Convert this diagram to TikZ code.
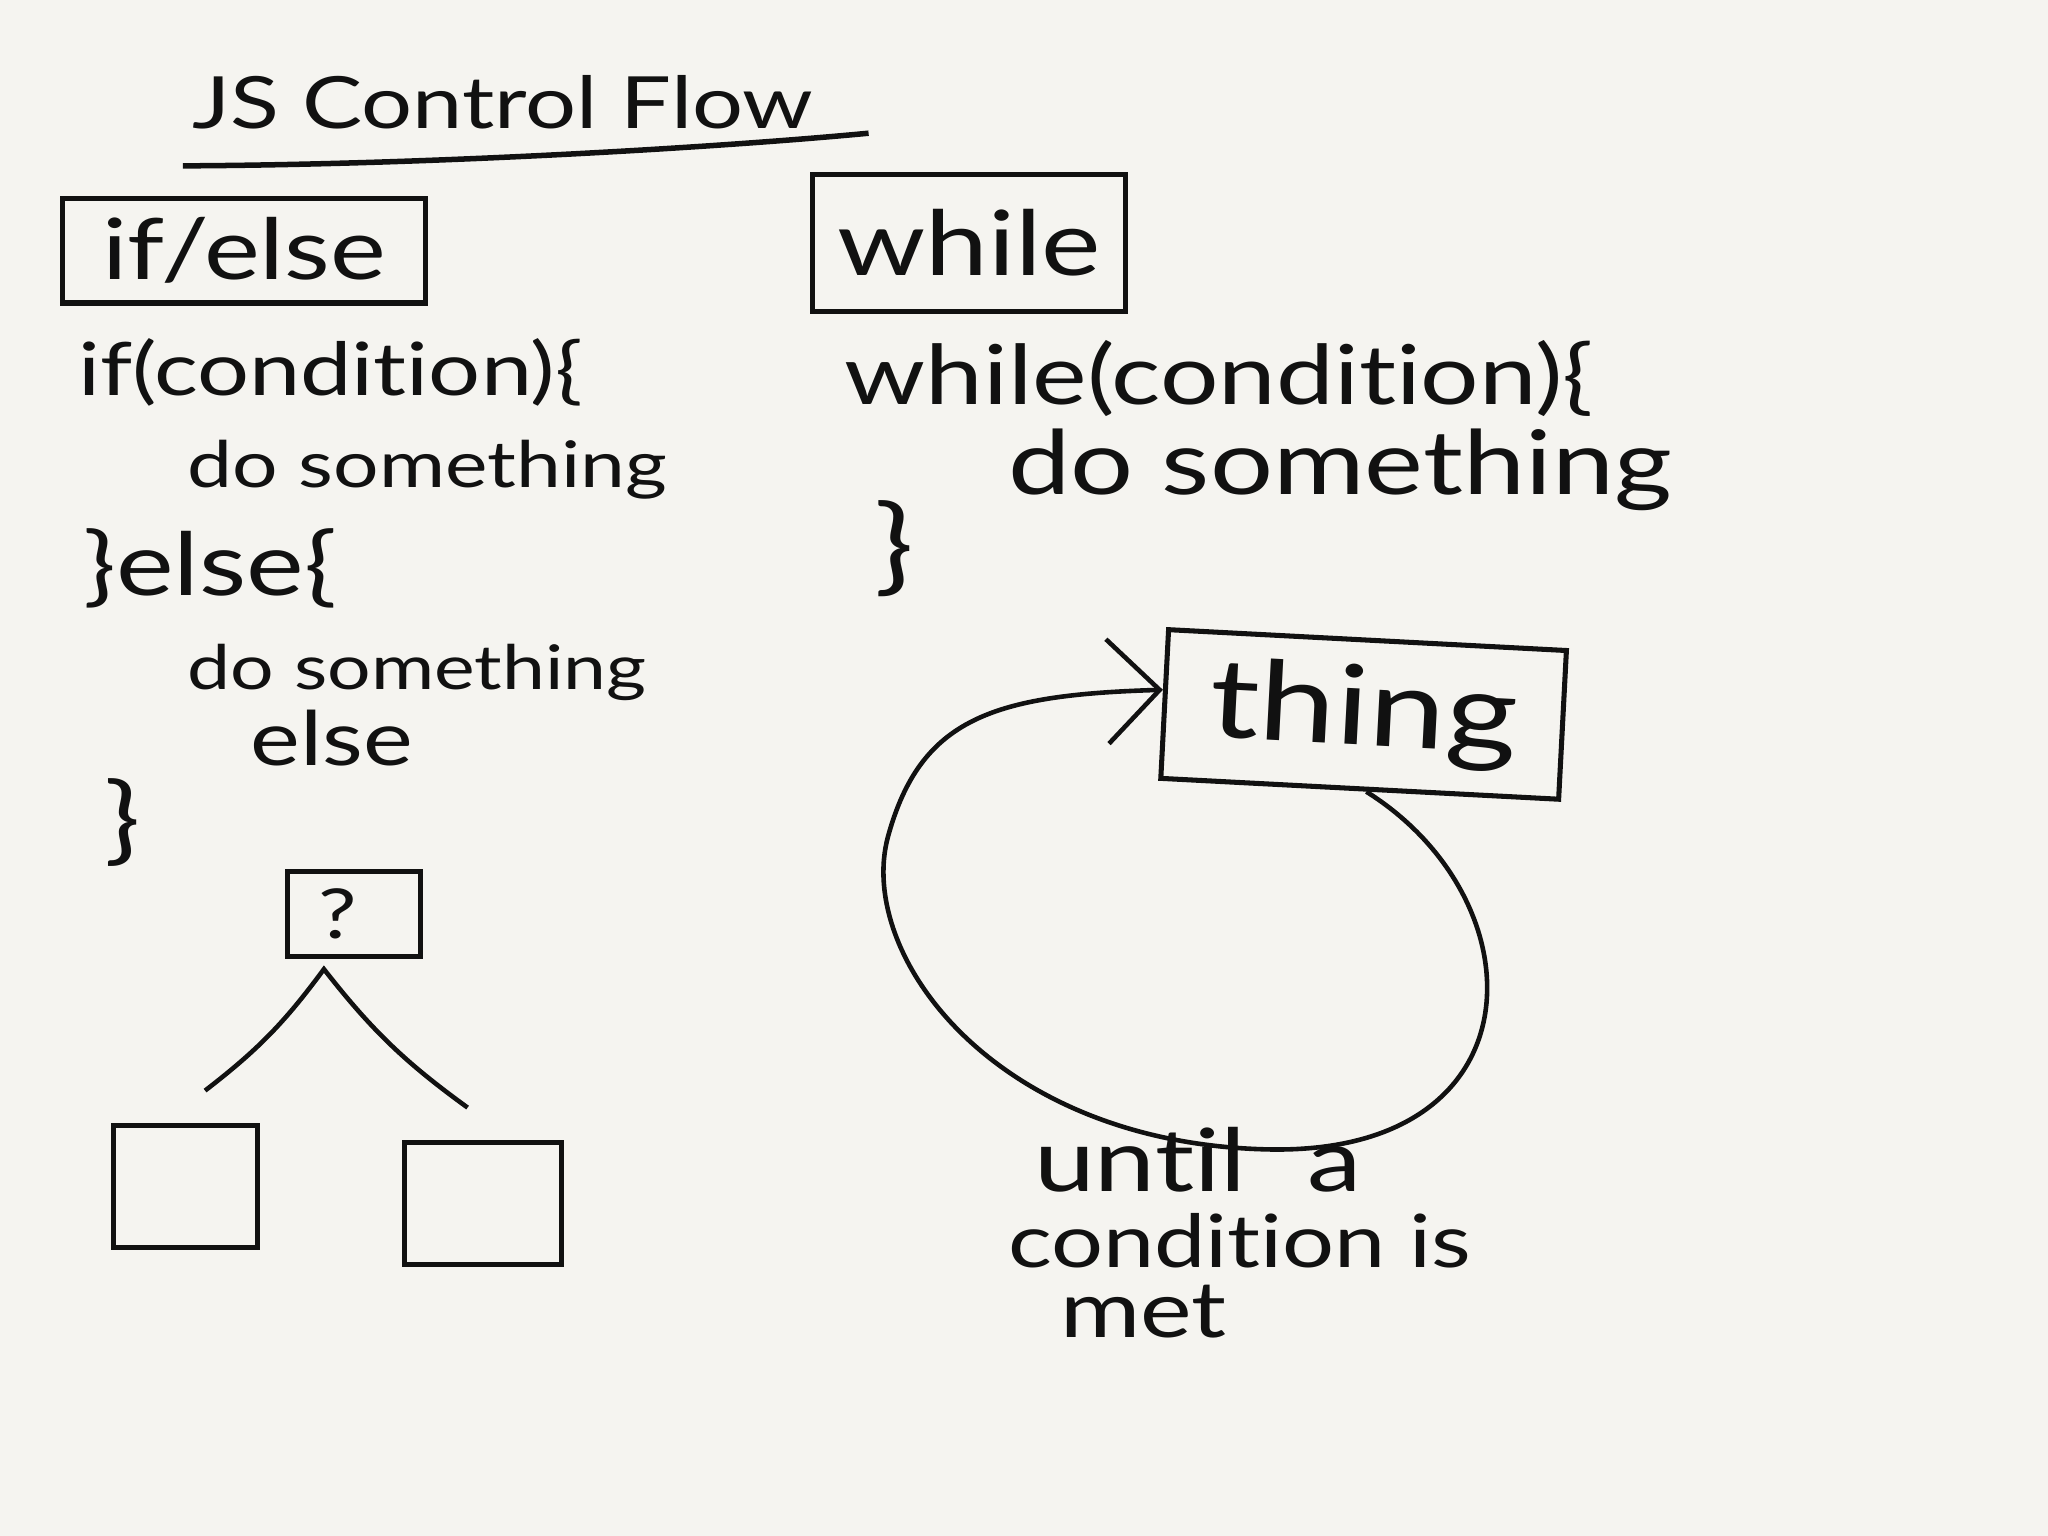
\documentclass[tikz,border=0pt]{standalone}
\usepackage{fontspec}
\setmainfont{Lato}[Ligatures=CommonOff, FakeStretch=1.25]
\usetikzlibrary{positioning,arrows.meta}
\definecolor{fondo}{HTML}{F5F4F0}
\definecolor{tinta}{HTML}{111111}
\newcommand{\tam}[1]{\fontsize{#1}{#1}\selectfont}
\tikzset{
  caja/.style={draw=tinta, line width=1.1pt, inner sep=0pt},
  codigo/.style={anchor=west, inner sep=0pt, font=\tam{16}},
  flecha/.style={-{Straight Barb[length=4mm,width=8mm]}}
}

\begin{document}
\begin{tikzpicture}[line width=1pt, color=tinta, every node/.style={text=tinta}]
\fill[fondo] (0,0) rectangle (15.68,-11.76);

% ================= titulo =================
\node[font=\tam{15.7}] (titulo) at (3.85,-0.78) {JS Control Flow};
\draw[line width=1.2pt] (1.40,-1.27) .. controls (3.4,-1.26) and (5.6,-1.12) .. (6.65,-1.02);

% ================= if/else =================
\node[caja, minimum width=2.78cm, minimum height=0.80cm, font=\tam{18.4}] (ifelse) at (1.87,-1.92) {if/else};
\node[codigo] (si) at (0.58,-2.85) {if(condition)\{};
\node[codigo, font=\tam{14}] (hacer1) at (1.42,-3.60) {do something};
\node[codigo, font=\tam{19}] (sino) at (0.62,-4.35) {\}else\{};
\node[codigo, font=\tam{13.4}] (hacer2) at (1.42,-5.15) {do something};
\node[codigo, font=\tam{16.4}] (sino2) at (1.90,-5.65) {else};
\node[codigo, font=\tam{21}] (cierre1) at (0.78,-6.30) {\}};

% decision
\node[caja, minimum width=1.02cm, minimum height=0.65cm, font=\tam{15}] (preg) at (2.71,-7.00) {?\rule{0.25cm}{0pt}};
\coordinate (rama) at (2.48,-7.42);
\coordinate (ramaI) at (1.57,-8.35);
\coordinate (ramaD) at (3.58,-8.48);
\draw (ramaI) to[bend right=8] (rama) to[bend right=8] (ramaD);
\node[caja, minimum width=1.10cm, minimum height=0.93cm] (hijoI) at (1.42,-9.085) {};
\node[caja, minimum width=1.20cm, minimum height=0.93cm] (hijoD) at (3.70,-9.215) {};

% ================= while =================
\node[caja, minimum width=2.40cm, minimum height=1.05cm, font=\tam{19.6}] (mientras) at (7.42,-1.86) {while};
\node[codigo, font=\tam{18}] (mq) at (6.45,-2.90) {while(condition)\{};
\node[codigo, font=\tam{19.4}] (hacer3) at (7.70,-3.60) {do something};
\node[codigo, font=\tam{23}] (cierre2) at (6.68,-4.20) {\}};

% bucle
\node[caja, rotate=-3, minimum width=3.05cm, minimum height=1.14cm, font=\tam{24}] (cosa) at (10.44,-5.47) {thing};
\draw[flecha] (cosa.-85) .. controls (11.8,-6.9) and (11.8,-8.85) .. (9.7,-8.8)
  .. controls (7.6,-8.75) and (6.55,-7.3) .. (6.8,-6.4)
  .. controls (7.05,-5.5) and (7.6,-5.32) .. (cosa.176);

\node[codigo, font=\tam{19}] (hasta1) at (7.90,-8.88) {until\hspace{0.7em}a};
\node[codigo, font=\tam{16}] (hasta2) at (7.70,-9.50) {condition is};
\node[codigo, font=\tam{17}] (hasta3) at (8.10,-10.04) {met};

\end{tikzpicture}
\end{document}
